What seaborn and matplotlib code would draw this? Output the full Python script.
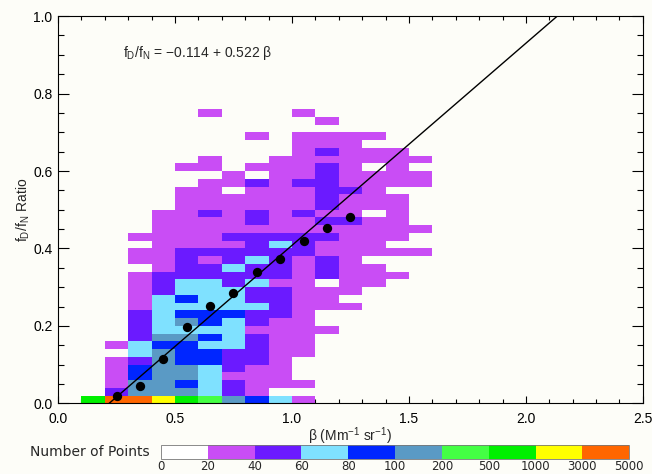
import numpy as np
import pandas as pd
import matplotlib
matplotlib.use("Agg")
import matplotlib.pyplot as plt
from matplotlib.colors import ListedColormap, BoundaryNorm
from matplotlib.ticker import MultipleLocator, FormatStrFormatter
import seaborn as sns

# colour levels of the 2-D histogram (number of points per cell)
levels = [0, 20, 40, 60, 80, 100, 200, 500, 1000, 3000, 5000]
level_colors = ["#ffffff", "#c94df5", "#6b1aff", "#7fe1ff", "#0026ff",
                "#5a9ac5", "#44ff44", "#00f000", "#ffff00", "#ff6600"]
# a typical count for each level (index = level code used in the grid)
level_count = [10, 30, 50, 70, 90, 150, 350, 750, 2000, 4000]

# cell edges: beta in 0.1 steps, ratio in 0.02 steps
beta_edges = np.linspace(0, 2.5, 26)
ratio_edges = np.linspace(0, 1, 51)

# level code per cell, top row = ratio 0.74-0.76, bottom row = 0.00-0.02
# columns: beta 0.0-0.1, 0.1-0.2, ... 1.5-1.6
grid_rows = [
    "......1...1.....",
    "...........1....",
    "................",
    "........1.1111..",
    "..........111...",
    "..........12111.",
    "......1..1111111",
    ".....11.11121.1.",
    ".......1.1121111",
    "......1121221111",
    ".....11.111221..",
    ".....1111112111.",
    ".....1111112111.",
    "....112121211.1.",
    "....11112112211.",
    "....111111111111",
    "...111122222111.",
    "....1111232111..",
    "...1122222211111",
    "...1121232121...",
    "....1223221211..",
    "...122222212111.",
    "...12332311.11..",
    "...1233322111...",
    "...134332211....",
    "...1333332111...",
    "...23444221.....",
    "...23543211.....",
    "...233331111....",
    "...25543211.....",
    "..134433211.....",
    "...35442211.....",
    "..12544221......",
    "..14553211......",
    "..14553111......",
    "..155432111.....",
    "..2555321.......",
    ".7998765431.....",
]

# binned means
bin_beta = [0.25, 0.35, 0.45, 0.55, 0.65, 0.75, 0.85, 0.95, 1.05, 1.15, 1.25]
bin_ratio = [0.020, 0.045, 0.115, 0.197, 0.251, 0.285, 0.340, 0.373, 0.420, 0.453, 0.480]

# linear fit
fit_a = -0.114
fit_b = 0.522

# build cell table
cells = []
for j, row in enumerate(reversed(grid_rows)):
    for k, c in enumerate(row):
        if c != ".":
            cells.append((beta_edges[k] + 0.05, ratio_edges[j] + 0.01, level_count[int(c)]))
df = pd.DataFrame(cells, columns=["beta", "ratio", "count"])

sns.set_theme(style="ticks")
bg = "#fdfdf8"
plt.rcParams["font.family"] = ["Liberation Sans", "DejaVu Sans"]
plt.rcParams["mathtext.fontset"] = "custom"
plt.rcParams["mathtext.rm"] = "Liberation Sans"
plt.rcParams["mathtext.it"] = "Liberation Sans"
plt.rcParams["mathtext.default"] = "regular"

fig = plt.figure(figsize=(6.52, 4.74), dpi=100, facecolor=bg)
ax = fig.add_axes([0.089, 0.149, 0.897, 0.817])
ax.set_facecolor(bg)

cmap = ListedColormap(level_colors)
norm = BoundaryNorm(levels, cmap.N)

sns.histplot(data=df, x="beta", y="ratio", weights="count",
             bins=[beta_edges, ratio_edges], cmap=cmap, ax=ax)
mesh = ax.collections[0]
mesh.set_norm(norm)

fit_x = np.array([0.0, 2.5])
sns.lineplot(x=fit_x, y=fit_a + fit_b * fit_x, color="black", lw=1.0, ax=ax)
sns.scatterplot(x=bin_beta, y=bin_ratio, color="black", s=45, edgecolor="black",
                linewidth=0, zorder=5, ax=ax)

ax.set_xlim(0, 2.5)
ax.set_ylim(0, 1)
ax.xaxis.set_major_locator(MultipleLocator(0.5))
ax.xaxis.set_minor_locator(MultipleLocator(0.1))
ax.yaxis.set_major_locator(MultipleLocator(0.2))
ax.yaxis.set_minor_locator(MultipleLocator(0.05))
ax.xaxis.set_major_formatter(FormatStrFormatter("%.1f"))
ax.yaxis.set_major_formatter(FormatStrFormatter("%.1f"))
ax.tick_params(which="both", direction="in", top=True, right=True,
               width=0.8, colors="black", labelsize=10)
ax.tick_params(axis="x", which="major", length=5, pad=6)
ax.tick_params(axis="x", which="minor", length=3)
ax.tick_params(axis="y", which="major", length=8, pad=4)
ax.tick_params(axis="y", which="minor", length=4)
for s in ax.spines.values():
    s.set_linewidth(0.8)
    s.set_color("black")

ax.set_xlabel(r"β (Mm$^{-1}$ sr$^{-1}$)", fontsize=10, labelpad=0)
ax.set_ylabel(r"$f_D/f_N$ Ratio", fontsize=10, labelpad=1)
ax.text(0.278, 0.906, r"$f_D/f_N$ = −0.114 + 0.522 β", fontsize=10, va="center")

cax = fig.add_axes([0.247, 0.032, 0.718, 0.030])
cb = fig.colorbar(mesh, cax=cax, orientation="horizontal", ticks=levels,
                  spacing="uniform")
cb.outline.set_linewidth(0.6)
cb.outline.set_edgecolor("#777777")
cb.ax.tick_params(length=0, pad=0.5, labelsize=8.5)
cb.ax.set_xticklabels([str(v) for v in levels])
for t in cb.ax.get_xticklabels():
    t.set_family("DejaVu Sans")
fig.text(0.230, 0.047, "Number of Points", ha="right", va="center",
         fontsize=10, family="DejaVu Sans")

fig.savefig("out.png", dpi=100, facecolor=bg)
